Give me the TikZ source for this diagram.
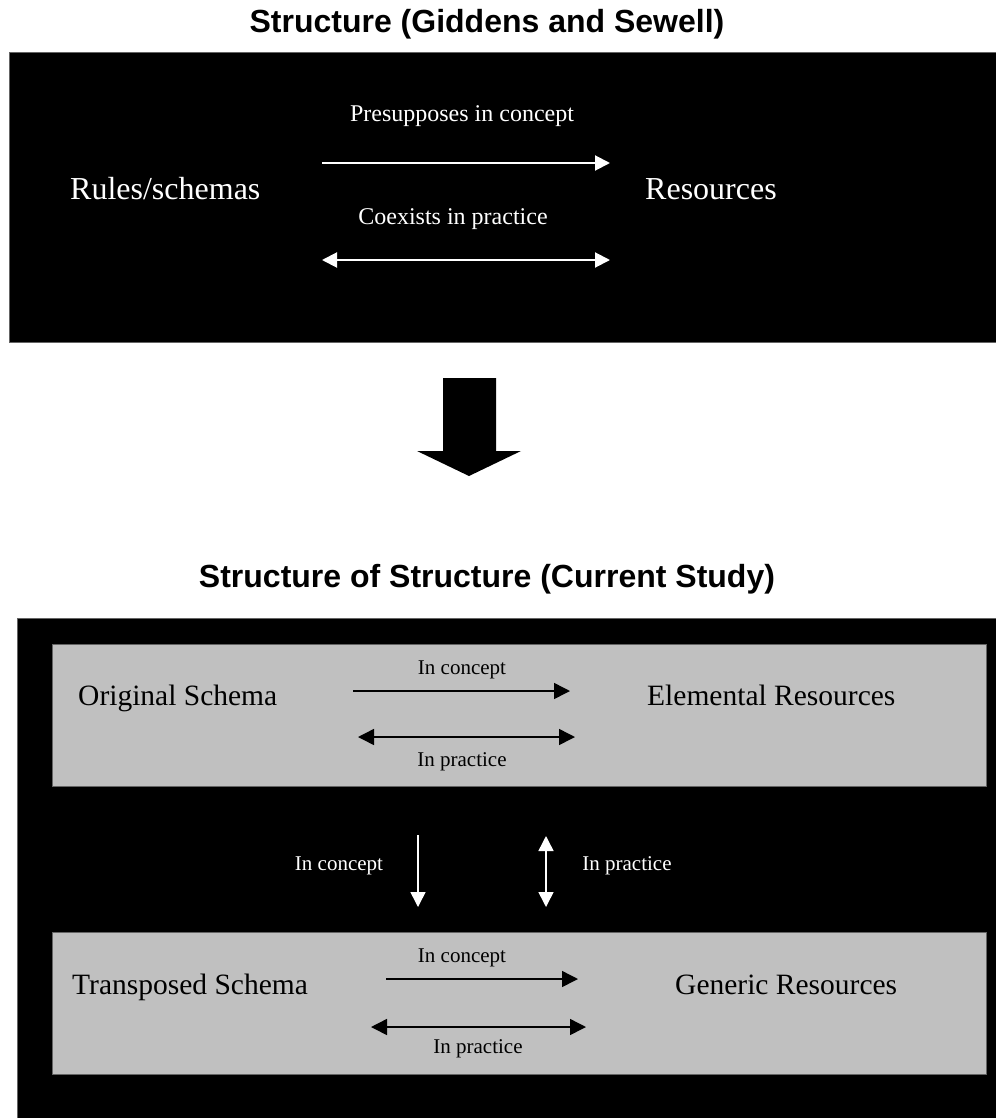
\documentclass[tikz,border=0pt]{standalone}
\usepackage{fontspec}
\setmainfont{Liberation Serif}
\newfontfamily\titlefont{Liberation Sans}
\usetikzlibrary{arrows.meta}
\definecolor{boxgray}{RGB}{192,192,192}
\definecolor{edgegray}{RGB}{100,100,100}
\begin{document}
\begin{tikzpicture}[x=1pt,y=-1pt,
  titletext/.style={font=\titlefont\bfseries\fontsize{32}{37}\selectfont, anchor=base, inner sep=0pt},
  bigwhite/.style={font=\fontsize{32}{38}\selectfont, text=white, anchor=base west, inner sep=0pt},
  smallwhite/.style={font=\fontsize{24}{28}\selectfont, text=white, anchor=base, inner sep=0pt},
  biglabel/.style={font=\fontsize{29.5}{34}\selectfont, text=black, anchor=base west, inner sep=0pt},
  smalllabel/.style={font=\fontsize{21}{25}\selectfont, text=black, anchor=base, inner sep=0pt},
  smallwhitelow/.style={font=\fontsize{21}{25}\selectfont, text=white, anchor=base, inner sep=0pt},
  tipw/.tip={Triangle[length=15pt,width=15pt]},
  tipb/.tip={Triangle[length=16pt,width=16pt]},
  whitearrow/.style={draw=white, line width=2pt, -tipw},
  whitedouble/.style={draw=white, line width=2pt, tipw-tipw},
  whitevarrow/.style={draw=white, line width=1.5pt, -tipw},
  whitevdouble/.style={draw=white, line width=1.5pt, tipw-tipw},
  blackarrow/.style={draw=black, line width=1.5pt, -tipb},
  blackdouble/.style={draw=black, line width=1.5pt, tipb-tipb},
  blackbox/.style={fill=black, draw=edgegray, line width=0.8pt},
  graybox/.style={fill=boxgray, draw=edgegray, line width=0.8pt}
]
\useasboundingbox (0,0) rectangle (995,1118);

% ---------- top part ----------
\node[titletext] (t1) at (487,33) {Structure (Giddens and Sewell)};
\path[blackbox] (9,52) rectangle (996,342);

\node[bigwhite] (rules) at (70,199) {Rules/schemas};
\node[bigwhite] (res) at (645,199) {Resources};
\node[smallwhite] (presup) at (462,122) {Presupposes in concept};
\node[smallwhite] (coex) at (453,224) {Coexists in practice};

\coordinate (a1s) at (322,163);
\coordinate (a1e) at (610,163);
\coordinate (a2s) at (322,260);
\coordinate (a2e) at (610,260);
\draw[whitearrow] (a1s) -- (a1e);
\draw[whitedouble] (a2s) -- (a2e);

% ---------- big down arrow ----------
\fill[black] (443,378) -- (496,378) -- (496,451) -- (521,451) -- (469,476)
  -- (417,451) -- (443,451) -- cycle;

% ---------- bottom part ----------
\node[titletext] (t2) at (487,587) {Structure of Structure (Current Study)};
\path[blackbox] (17,618) rectangle (996,1119);

\path[graybox] (52,644) rectangle (986,786);
\path[graybox] (52,932) rectangle (986,1074);

\node[biglabel] (orig) at (78,705) {Original Schema};
\node[biglabel] (elem) at (647,705) {Elemental Resources};
\node[smalllabel] (c1) at (462,674) {In concept};
\node[smalllabel] (p1) at (462,766) {In practice};
\coordinate (b1s) at (353,691);
\coordinate (b1e) at (570,691);
\coordinate (b2s) at (358,737);
\coordinate (b2e) at (575,737);
\draw[blackarrow] (b1s) -- (b1e);
\draw[blackdouble] (b2s) -- (b2e);

\node[smallwhitelow] (vc) at (339,870) {In concept};
\node[smallwhitelow] (vp) at (627,870) {In practice};
\coordinate (v1s) at (418,835);
\coordinate (v1e) at (418,907);
\coordinate (v2s) at (546,836);
\coordinate (v2e) at (546,907);
\draw[whitevarrow] (v1s) -- (v1e);
\draw[whitevdouble] (v2s) -- (v2e);

\node[biglabel] (trans) at (72,994) {Transposed Schema};
\node[biglabel] (gen) at (675,994) {Generic Resources};
\node[smalllabel] (c2) at (462,962) {In concept};
\node[smalllabel] (p2) at (478,1053) {In practice};
\coordinate (g1s) at (386,979);
\coordinate (g1e) at (578,979);
\coordinate (g2s) at (371,1027);
\coordinate (g2e) at (586,1027);
\draw[blackarrow] (g1s) -- (g1e);
\draw[blackdouble] (g2s) -- (g2e);
\end{tikzpicture}
\end{document}
